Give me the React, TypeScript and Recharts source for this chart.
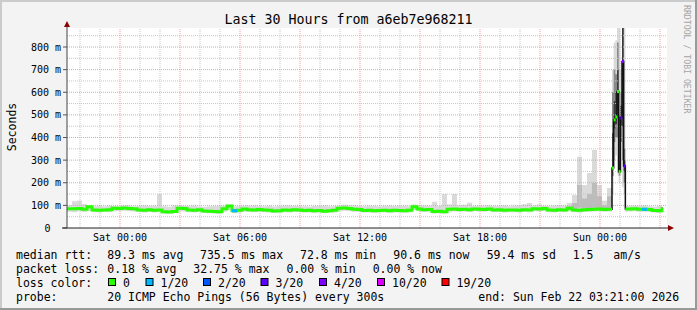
import React from "react";
import { ComposedChart, Area, Line, XAxis, YAxis, ReferenceLine } from "recharts";

const W = 697;
const H = 310;
const MONO = "'DejaVu Sans Mono', monospace";

// median rtt in ms, one sample per 15 min from Fri 21:21 (index * 0.25 h)
// 109..111 are covered by the 5-minute spike samples below
const medianMs = [
  85, 85, 86, 83, 94, 80, 79, 80, 81, 87,
  86, 88, 86, 85, 80, 79, 81, 78, 80, 72,
  71, 73, 87, 86, 80, 79, 81, 75, 74, 73,
  72, 85, 97, 76, 78, 84, 81, 80, 82, 80,
  79, 75, 76, 80, 79, 81, 80, 77, 78, 76,
  77, 74, 76, 78, 87, 88, 86, 83, 82, 77,
  78, 76, 77, 79, 76, 78, 77, 76, 78, 94,
  84, 81, 82, 73, 74, 72, 83, 84, 82, 83,
  81, 84, 83, 82, 84, 80, 81, 79, 80, 80,
  79, 81, 80, 85, 84, 86, 80, 79, 81, 80,
  87, 80, 79, 81, 82, 83, 84, 82, 83, null,
  null, null, 84, 85, 83, 83, 82, 77, 76, 91,
];

// smoke (slowest / fastest ping) per sample, ms
const smokeMaxMs = [
  100, 118, 122, 105, 98, 97, 99, 96, 100, 98,
  97, 101, 99, 96, 98, 100, 97, 98, 150, 96,
  94, 99, 101, 98, 97, 99, 95, 94, 96, 97,
  99, 100, 104, 96, 97, 99, 98, 100, 97, 96,
  98, 95, 97, 99, 100, 97, 98, 96, 95, 97,
  98, 99, 96, 97, 100, 103, 101, 99, 97, 96,
  98, 97, 96, 98, 100, 97, 99, 98, 96, 104,
  100, 99, 98, 116, 97, 150, 104, 150, 101, 103,
  112, 98, 100, 99, 101, 97, 98, 100, 96, 99,
  101, 105, 110, 100, 104, 98, 97, 100, 102, 99,
  110, 146, 315, 190, 243, 345, 190, 120, 177, null,
  null, null, 98, 100, 97, 99, 96, 95, 98, 100,
];
const smokeMinMs = [
  72, 70, 74, 71, 76, 70, 69, 71, 70, 74,
  75, 76, 74, 73, 70, 69, 71, 68, 70, 64,
  63, 65, 74, 73, 70, 69, 71, 66, 65, 64,
  63, 72, 78, 65, 68, 73, 71, 70, 72, 70,
  69, 66, 67, 70, 69, 71, 70, 68, 69, 67,
  68, 65, 67, 69, 75, 76, 74, 72, 71, 68,
  69, 67, 68, 70, 67, 69, 68, 67, 69, 80,
  74, 71, 72, 64, 65, 63, 72, 73, 72, 73,
  71, 74, 73, 72, 74, 70, 71, 69, 70, 70,
  69, 71, 70, 74, 73, 75, 70, 69, 71, 70,
  76, 70, 69, 71, 72, 73, 74, 72, 73, null,
  null, null, 73, 74, 72, 72, 71, 68, 67, 78,
];

// samples with 1/20 loss
const loss1Idx = [33, 115];

// denser smoke for samples 100..108 (+ spike start)
const lateMidLo = [80, 84, 90, 88, 86, 90, 86, 82, 84, 84];
const lateMidHi = [96, 110, 190, 130, 150, 200, 140, 100, 140, 140];

// 5-minute samples around the Sun 00:40 spike
const spikeHours = [27.25, 27.333, 27.417, 27.5, 27.583, 27.667, 27.75, 27.833, 27.917];
const spikeMedian = [265, 478, 491, 603, 249, 487, 736, 274, 84];
const spikeGreen = [83, null, null, null, null, null, null, null, 84];
const spikeLoss = [0, 0, 0, 0, 0, 3, 4, 3, null];
const spikeMin = [150, 300, 320, 240, 200, 250, 180, 150, 72];
const spikeMax = [700, 820, 830, 900, 900, 700, 900, 900, 98];
const spikeMidLo = [230, 380, 400, 400, 230, 380, 300, 200, 200];
const spikeMidHi = [600, 700, 680, 820, 500, 600, 900, 350, 350];
const spikeCoreLo = [260, 440, 460, 520, 245, 450, 450, 250, 250];
const spikeCoreHi = [420, 560, 600, 700, 300, 540, 900, 300, 300];

const lossColors: Record<number, string> = {
  0: "#26ff00",
  1: "#00b8ff",
  2: "#0059ff",
  3: "#5e00ff",
  4: "#7e00ff",
  10: "#dd00ff",
  19: "#ff0000",
};
const lossLegend = [
  { label: "0", key: 0 },
  { label: "1/20", key: 1 },
  { label: "2/20", key: 2 },
  { label: "3/20", key: 3 },
  { label: "4/20", key: 4 },
  { label: "10/20", key: 10 },
  { label: "19/20", key: 19 },
];

const timeTicks = [2.65, 8.65, 14.65, 20.65, 26.65];
const timeLabels = ["Sat 00:00", "Sat 06:00", "Sat 12:00", "Sat 18:00", "Sun 00:00"];
const yTicks = [0, 100, 200, 300, 400, 500, 600, 700, 800];

// grid: every hour, red every 3 hours; every 50 ms, red every 100 ms
const hourLines: number[] = [];
const hour3Lines: number[] = [];
for (let k = 0; k < 30; k++) {
  const h = 0.65 + k;
  if ((22 + k) % 3 === 0) hour3Lines.push(h);
  else hourLines.push(h);
}
const minorY = [50, 150, 250, 350, 450, 550, 650, 750, 850];
const majorY = [100, 200, 300, 400, 500, 600, 700, 800];

const rows: any[] = [];
medianMs.forEach((m, i) => {
  if (m === null) return;
  rows.push({
    t: i * 0.25,
    median: m,
    green: m,
    cyan: loss1Idx.includes(i) ? m : loss1Idx.includes(i - 1) ? medianMs[i - 1] : null,
    outer: [smokeMinMs[i], smokeMaxMs[i]],
    lateMid: i >= 100 ? [lateMidLo[i - 100], lateMidHi[i - 100]] : null,
    mid: null,
    core: null,
    marker: null,
    markerColor: null,
  });
});
spikeHours.forEach((t, j) => {
  rows.push({
    t,
    median: spikeMedian[j],
    green: spikeGreen[j],
    cyan: null,
    outer: [spikeMin[j], spikeMax[j]],
    lateMid: j === 0 ? [lateMidLo[9], lateMidHi[9]] : null,
    mid: [spikeMidLo[j], spikeMidHi[j]],
    core: [spikeCoreLo[j], spikeCoreHi[j]],
    marker: spikeLoss[j] === null ? null : spikeMedian[j],
    markerColor: spikeLoss[j] === null ? null : lossColors[spikeLoss[j] as number],
  });
});
rows.sort((a, b) => a.t - b.t);

const YTick = (props: any) => {
  const { x, y, payload } = props;
  const v = payload.value;
  return (
    <g>
      <line x1={x - 4} x2={x} y1={y} y2={y} stroke="#555" />
      <text
        x={v === 0 ? x - 16.5 : x - 6}
        y={y}
        dy={3.6}
        textAnchor="end"
        fontFamily={MONO}
        fontSize={10}
        fill="#000"
      >
        {v === 0 ? "0" : `${v} m`}
      </text>
    </g>
  );
};

const XTick = (props: any) => {
  const { x, y, payload } = props;
  const i = timeTicks.indexOf(payload.value);
  return (
    <text x={x} y={y + 13} textAnchor="middle" fontFamily={MONO} fontSize={10} fill="#000">
      {timeLabels[i]}
    </text>
  );
};

const MarkerDot = (props: any) => {
  const { cx, cy, payload, index } = props;
  if (cy == null || !payload.markerColor) return <g key={`m${index}`} />;
  return <rect key={`m${index}`} x={cx} y={cy - 1.5} width={2} height={3} fill={payload.markerColor} />;
};

const legendStyle = { fontFamily: MONO, fontSize: 11.5, fill: "#000" } as const;

export default function App() {
  return (
    <div style={{ position: "absolute", left: 0, top: 0, width: W, height: H, background: "#f3f3f3" }}>
      <ComposedChart
        width={W}
        height={H}
        data={rows}
        margin={{ top: 28, right: 30, bottom: 0, left: 0 }}
        style={{ position: "absolute", left: 0, top: 0 }}
      >
        <rect x={67} y={28} width={600} height={200} fill="#fff" />
        <XAxis
          type="number"
          dataKey="t"
          domain={[0, 30]}
          ticks={timeTicks}
          interval={0}
          tick={<XTick />}
          tickSize={0}
          tickMargin={0}
          height={82}
          axisLine={{ stroke: "#222" }}
          tickLine={false}
          allowDataOverflow
        />
        <YAxis
          type="number"
          domain={[0, 884]}
          ticks={yTicks}
          interval={0}
          tick={<YTick />}
          tickSize={0}
          tickMargin={0}
          width={67}
          axisLine={{ stroke: "#444" }}
          tickLine={false}
          allowDataOverflow
        />
        {hourLines.map((h) => (
          <ReferenceLine key={`h${h}`} x={h} stroke="#c6c6c6" strokeDasharray="1 1" />
        ))}
        {minorY.map((v) => (
          <ReferenceLine key={`y${v}`} y={v} stroke="#c6c6c6" strokeDasharray="1 1" />
        ))}
        {hour3Lines.map((h) => (
          <ReferenceLine key={`H${h}`} x={h} stroke="#eba0a0" strokeDasharray="1 1" />
        ))}
        {majorY.map((v) => (
          <ReferenceLine key={`Y${v}`} y={v} stroke="#eba0a0" strokeDasharray="1 1" />
        ))}
        <Area dataKey="outer" type="stepAfter" stroke="none" fill="#dadada" fillOpacity={1} isAnimationActive={false} />
        <Area dataKey="lateMid" type="stepAfter" stroke="none" fill="#bcbcbc" fillOpacity={1} isAnimationActive={false} />
        <Area dataKey="mid" type="stepAfter" stroke="none" fill="#8a8a8a" fillOpacity={1} isAnimationActive={false} />
        <Area dataKey="core" type="stepAfter" stroke="none" fill="#3c3c3c" fillOpacity={1} isAnimationActive={false} />
        <Line dataKey="median" type="stepAfter" stroke="#111" strokeWidth={1.5} dot={false} activeDot={false} isAnimationActive={false} />
        <Line dataKey="green" type="stepAfter" stroke={lossColors[0]} strokeWidth={3} dot={false} activeDot={false} isAnimationActive={false} />
        <Line dataKey="cyan" type="stepAfter" stroke={lossColors[1]} strokeWidth={3} dot={false} activeDot={false} isAnimationActive={false} />
        <Line dataKey="marker" type="stepAfter" stroke="none" dot={MarkerDot} activeDot={false} isAnimationActive={false} />
      </ComposedChart>
      <svg width={W} height={H} style={{ position: "absolute", left: 0, top: 0, pointerEvents: "none" }}>
        <rect x={0} y={0} width={W} height={2} fill="#cbcbcb" />
        <rect x={0} y={0} width={2} height={H} fill="#cbcbcb" />
        <rect x={0} y={H - 2} width={W} height={2} fill="#999" />
        <rect x={W - 2} y={0} width={2} height={H} fill="#999" />
        <line x1={67} x2={67} y1={28} y2={24} stroke="#444" />
        <line x1={62} x2={67} y1={228} y2={228} stroke="#222" />
        <line x1={667} x2={670} y1={228} y2={228} stroke="#222" />
        <polygon points="64,27 67,21 70,27" fill="#8b0000" />
        <polygon points="668,225 674,228 668,231" fill="#8b0000" />
        <text x={348.5} y={23.5} textAnchor="middle" fontFamily={MONO} fontSize={13.3} fill="#000">
          Last 30 Hours from a6eb7e968211
        </text>
        <text
          x={15.5}
          y={127}
          textAnchor="middle"
          transform="rotate(-90 15.5 127)"
          fontFamily={MONO}
          fontSize={11.5}
          fill="#000"
        >
          Seconds
        </text>
        <text x={684} y={5} transform="rotate(90 684 5)" fontFamily={MONO} fontSize={8.2} fill="#a4a4a4">
          RRDTOOL / TOBI OETIKER
        </text>
        <g style={legendStyle}>
          <text x={16} y={258.5}>median rtt:</text>
          <text x={107.3} y={258.5}>89.3 ms avg</text>
          <text x={200} y={258.5}>735.5 ms max</text>
          <text x={300} y={258.5}>72.8 ms min</text>
          <text x={393.3} y={258.5}>90.6 ms now</text>
          <text x={486.7} y={258.5}>59.4 ms sd</text>
          <text x={572.7} y={258.5}>1.5</text>
          <text x={613.3} y={258.5}>am/s</text>

          <text x={16} y={272.5}>packet loss:</text>
          <text x={107.3} y={272.5}>0.18 % avg</text>
          <text x={193.3} y={272.5}>32.75 % max</text>
          <text x={286.5} y={272.5}>0.00 % min</text>
          <text x={372.7} y={272.5}>0.00 % now</text>

          <text x={16} y={286.5}>loss color:</text>
          {lossLegend.map((d, i) => {
            const bx = [108.5, 146, 203.5, 261, 319.5, 377.5, 442][i];
            return (
              <g key={d.label}>
                <rect x={bx} y={278.5} width={7} height={7} fill={lossColors[d.key]} stroke="#000" strokeWidth={1} />
                <text x={bx + 14.5} y={286.5}>{d.label}</text>
              </g>
            );
          })}

          <text x={16} y={300.5}>probe:</text>
          <text x={107.3} y={300.5}>20 ICMP Echo Pings (56 Bytes) every 300s</text>
          <text x={478.3} y={300.5}>end: Sun Feb 22 03:21:00 2026</text>
        </g>
      </svg>
    </div>
  );
}
